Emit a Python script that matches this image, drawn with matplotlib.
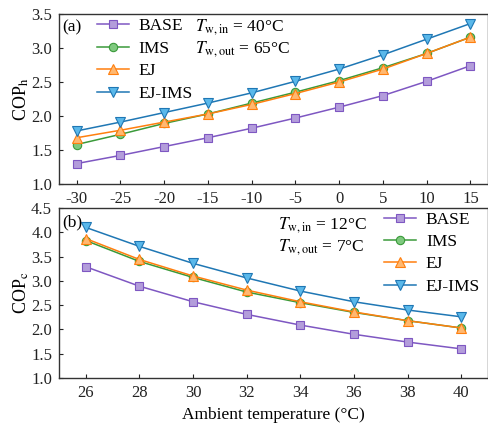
import matplotlib
matplotlib.use("Agg")
import matplotlib.pyplot as plt

plt.rcParams['font.family'] = ['Liberation Serif', 'DejaVu Serif']
plt.rcParams['mathtext.fontset'] = 'stix'
plt.rcParams['axes.unicode_minus'] = False
plt.rcParams['font.size'] = 12

# (a) heating mode
t_heat = [-30, -25, -20, -15, -10, -5, 0, 5, 10, 15]
cop_h_base = [1.30, 1.42, 1.55, 1.68, 1.82, 1.97, 2.13, 2.30, 2.51, 2.74]
cop_h_ims = [1.58, 1.73, 1.89, 2.03, 2.19, 2.35, 2.52, 2.71, 2.92, 3.16]
cop_h_ej = [1.68, 1.79, 1.91, 2.03, 2.17, 2.33, 2.50, 2.69, 2.92, 3.16]
cop_h_ejims = [1.78, 1.91, 2.05, 2.19, 2.34, 2.51, 2.69, 2.90, 3.13, 3.36]

# (b) cooling mode
t_cool = [26, 28, 30, 32, 34, 36, 38, 40]
cop_c_base = [3.29, 2.89, 2.57, 2.31, 2.09, 1.90, 1.74, 1.60]
cop_c_ims = [3.83, 3.40, 3.07, 2.77, 2.55, 2.35, 2.18, 2.03]
cop_c_ej = [3.87, 3.44, 3.10, 2.81, 2.57, 2.36, 2.18, 2.03]
cop_c_ejims = [4.10, 3.71, 3.36, 3.06, 2.79, 2.57, 2.40, 2.26]

names = ['BASE', 'IMS', 'EJ', 'EJ-IMS']
styles = [
    dict(color='#7e57c2', marker='s', ms=5.5, mfc='#b39ddb', mec='#7e57c2'),
    dict(color='#3a9a3a', marker='o', ms=6, mfc='#7fc97f', mec='#3a9a3a'),
    dict(color='#ff7f0e', marker='^', ms=6.5, mfc='#ffb870', mec='#ff7f0e'),
    dict(color='#1f77b4', marker='v', ms=6.5, mfc='#5ab8ea', mec='#1f77b4'),
]

fig = plt.figure(figsize=(4.89, 4.23), dpi=100)
ax1 = fig.add_axes([59 / 489, 1 - 184 / 423, 429 / 489, 170 / 423])
ax2 = fig.add_axes([59 / 489, 1 - 378 / 423, 429 / 489, 170 / 423])

for ax in (ax1, ax2):
    for sp in ax.spines.values():
        sp.set_color('#333333')
        sp.set_linewidth(1.0)
    ax.tick_params(direction='in', length=3, width=0.8, top=False, right=False,
                   labelsize=12, pad=5, colors='#222222')

for ys, name, st in zip([cop_h_base, cop_h_ims, cop_h_ej, cop_h_ejims], names, styles):
    ax1.plot(t_heat, ys, label=name, lw=1.1, mew=0.8, **st)
for ys, name, st in zip([cop_c_base, cop_c_ims, cop_c_ej, cop_c_ejims], names, styles):
    ax2.plot(t_cool, ys, label=name, lw=1.1, mew=0.8, **st)

ax1.set_xlim(-32, 17)
ax1.set_ylim(1.0, 3.5)
ax1.set_xticks(t_heat)
ax1.set_yticks([1.0, 1.5, 2.0, 2.5, 3.0, 3.5])
ax1.set_ylabel('COP$_{\\mathrm{h}}$', fontsize=13, labelpad=0)

ax2.set_xlim(25, 41)
ax2.set_ylim(1.0, 4.5)
ax2.set_xticks(t_cool)
ax2.set_yticks([1.0, 1.5, 2.0, 2.5, 3.0, 3.5, 4.0, 4.5])
ax2.set_ylabel('COP$_{\\mathrm{c}}$', fontsize=13, labelpad=0)
ax2.set_xlabel('Ambient temperature (°C)', fontsize=12.5, labelpad=4)

ax1.text(0.008, 0.92, '(a)', transform=ax1.transAxes, fontsize=12.5, va='center', ha='left')
ax2.text(0.008, 0.915, '(b)', transform=ax2.transAxes, fontsize=12.5, va='center', ha='left')

leg_kw = dict(frameon=False, fontsize=12.5, handlelength=1.85, handletextpad=0.55,
              labelspacing=0.36, borderpad=0.2, borderaxespad=0)
ax1.legend(loc='upper left', bbox_to_anchor=(0.08, 0.995), **leg_kw)
ax2.legend(loc='upper left', bbox_to_anchor=(0.75, 1.0), **leg_kw)

ax1.text(0.317, 0.925, '$T_{\\mathrm{w,in}}$ = 40°C', transform=ax1.transAxes,
         fontsize=12.5, va='center', ha='left')
ax1.text(0.317, 0.795, '$T_{\\mathrm{w,out}}$ = 65°C', transform=ax1.transAxes,
         fontsize=12.5, va='center', ha='left')
ax2.text(0.51, 0.9, '$T_{\\mathrm{w,in}}$ = 12°C', transform=ax2.transAxes,
         fontsize=12.5, va='center', ha='left')
ax2.text(0.51, 0.77, '$T_{\\mathrm{w,out}}$ = 7°C', transform=ax2.transAxes,
         fontsize=12.5, va='center', ha='left')

fig.savefig('out.png', dpi=100)
